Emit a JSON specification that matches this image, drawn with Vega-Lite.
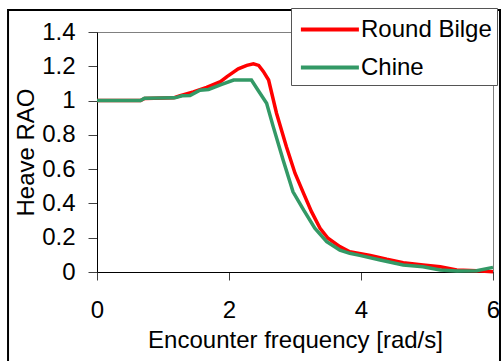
{
  "$schema": "https://vega.github.io/schema/vega-lite/v6.json",
  "width": 396,
  "height": 240,
  "autosize": {"type": "none"},
  "padding": {"left": 97, "top": 32, "right": 8, "bottom": 89},
  "background": "white",
  "config": {
    "font": "Liberation Sans",
    "view": {"stroke": "#808080", "strokeWidth": 1},
    "axis": {"labelOverlap": false}
  },
  "data": {
    "values": [
      {"series": "Round Bilge", "f": 0, "rao": 1.0},
      {"series": "Round Bilge", "f": 0.66, "rao": 1.0},
      {"series": "Round Bilge", "f": 0.72, "rao": 1.012},
      {"series": "Round Bilge", "f": 1.16, "rao": 1.016},
      {"series": "Round Bilge", "f": 1.26, "rao": 1.028},
      {"series": "Round Bilge", "f": 1.46, "rao": 1.05},
      {"series": "Round Bilge", "f": 1.66, "rao": 1.077},
      {"series": "Round Bilge", "f": 1.87, "rao": 1.11},
      {"series": "Round Bilge", "f": 1.97, "rao": 1.14},
      {"series": "Round Bilge", "f": 2.14, "rao": 1.185},
      {"series": "Round Bilge", "f": 2.27, "rao": 1.205},
      {"series": "Round Bilge", "f": 2.37, "rao": 1.215},
      {"series": "Round Bilge", "f": 2.45, "rao": 1.205},
      {"series": "Round Bilge", "f": 2.52, "rao": 1.17},
      {"series": "Round Bilge", "f": 2.6, "rao": 1.12},
      {"series": "Round Bilge", "f": 2.72, "rao": 0.926},
      {"series": "Round Bilge", "f": 2.87, "rao": 0.731},
      {"series": "Round Bilge", "f": 3.0, "rao": 0.576},
      {"series": "Round Bilge", "f": 3.13, "rao": 0.459},
      {"series": "Round Bilge", "f": 3.25, "rao": 0.352},
      {"series": "Round Bilge", "f": 3.38, "rao": 0.255},
      {"series": "Round Bilge", "f": 3.5, "rao": 0.197},
      {"series": "Round Bilge", "f": 3.68, "rao": 0.148},
      {"series": "Round Bilge", "f": 3.83, "rao": 0.118},
      {"series": "Round Bilge", "f": 4.14, "rao": 0.097},
      {"series": "Round Bilge", "f": 4.39, "rao": 0.074},
      {"series": "Round Bilge", "f": 4.64, "rao": 0.054},
      {"series": "Round Bilge", "f": 4.94, "rao": 0.041},
      {"series": "Round Bilge", "f": 5.2, "rao": 0.031},
      {"series": "Round Bilge", "f": 5.45, "rao": 0.012},
      {"series": "Round Bilge", "f": 5.75, "rao": 0.008},
      {"series": "Round Bilge", "f": 6.0, "rao": 0.002},
      {"series": "Chine", "f": 0, "rao": 1.0},
      {"series": "Chine", "f": 0.66, "rao": 1.0},
      {"series": "Chine", "f": 0.72, "rao": 1.013},
      {"series": "Chine", "f": 1.18, "rao": 1.016},
      {"series": "Chine", "f": 1.29, "rao": 1.028},
      {"series": "Chine", "f": 1.41, "rao": 1.03},
      {"series": "Chine", "f": 1.56, "rao": 1.06},
      {"series": "Chine", "f": 1.69, "rao": 1.065},
      {"series": "Chine", "f": 1.89, "rao": 1.094},
      {"series": "Chine", "f": 2.07, "rao": 1.12},
      {"series": "Chine", "f": 2.34, "rao": 1.12},
      {"series": "Chine", "f": 2.44, "rao": 1.06},
      {"series": "Chine", "f": 2.57, "rao": 0.984},
      {"series": "Chine", "f": 2.67, "rao": 0.848},
      {"series": "Chine", "f": 2.82, "rao": 0.653},
      {"series": "Chine", "f": 2.97, "rao": 0.468},
      {"series": "Chine", "f": 3.13, "rao": 0.362},
      {"series": "Chine", "f": 3.3, "rao": 0.255},
      {"series": "Chine", "f": 3.48, "rao": 0.177},
      {"series": "Chine", "f": 3.68, "rao": 0.128},
      {"series": "Chine", "f": 3.83, "rao": 0.109},
      {"series": "Chine", "f": 3.98, "rao": 0.097},
      {"series": "Chine", "f": 4.29, "rao": 0.07},
      {"series": "Chine", "f": 4.64, "rao": 0.041},
      {"series": "Chine", "f": 4.94, "rao": 0.031},
      {"series": "Chine", "f": 5.2, "rao": 0.012},
      {"series": "Chine", "f": 5.45, "rao": 0.006},
      {"series": "Chine", "f": 5.75, "rao": 0.008},
      {"series": "Chine", "f": 6.0, "rao": 0.027}
    ]
  },
  "layer": [
    {
      "mark": {"type": "line", "strokeWidth": 3.5, "clip": false},
      "encoding": {
        "x": {
          "field": "f",
          "type": "quantitative",
          "scale": {"domain": [0, 6], "nice": false, "zero": false},
          "axis": {
            "title": "Encounter frequency [rad/s]",
            "values": [0, 2, 4, 6],
            "tickCount": 10,
            "format": "~g",
            "grid": false,
            "domainColor": "#000000",
            "tickColor": "#404040",
            "tickSize": 8,
            "labelFontSize": 24,
            "labelColor": "#000000",
            "labelPadding": 18,
            "labelFlush": false,
            "labelOverlap": false,
            "titleFontSize": 24,
            "titleFontWeight": "normal",
            "titleColor": "#000000",
            "titlePadding": 6
          }
        },
        "y": {
          "field": "rao",
          "type": "quantitative",
          "scale": {"domain": [0, 1.4], "nice": false},
          "axis": {
            "title": "Heave RAO",
            "values": [0, 0.2, 0.4, 0.6, 0.8, 1, 1.2, 1.4],
            "tickCount": 10,
            "format": "~g",
            "grid": false,
            "domainColor": "#000000",
            "tickColor": "#404040",
            "tickSize": 9,
            "labelFontSize": 24,
            "labelColor": "#000000",
            "labelPadding": 13,
            "labelFlush": false,
            "labelOverlap": false,
            "titleFontSize": 24,
            "titleFontWeight": "normal",
            "titleColor": "#000000",
            "titlePadding": 3
          }
        },
        "color": {
          "field": "series",
          "type": "nominal",
          "scale": {"domain": ["Round Bilge", "Chine"], "range": ["#FF0000", "#339966"]},
          "legend": {
            "title": null,
            "orient": "none",
            "legendX": 194,
            "legendY": -24,
            "direction": "vertical",
            "strokeColor": "#555555",
            "fillColor": "white",
            "padding": 5,
            "symbolType": "M-0.8,0H3.2",
            "symbolSize": 841,
            "symbolStrokeWidth": 4,
            "labelFontSize": 24,
            "labelColor": "#000000",
            "labelOffset": 32,
            "rowPadding": 9
          }
        }
      }
    },
    {
      "data": {"values": [{}]},
      "mark": {"type": "rect", "filled": false, "stroke": "#000000", "strokeWidth": 2, "clip": false},
      "encoding": {
        "x": {"datum": -1.348},
        "x2": {"datum": 6.106},
        "y": {"datum": 1.528},
        "y2": {"datum": -0.6}
      }
    }
  ]
}
